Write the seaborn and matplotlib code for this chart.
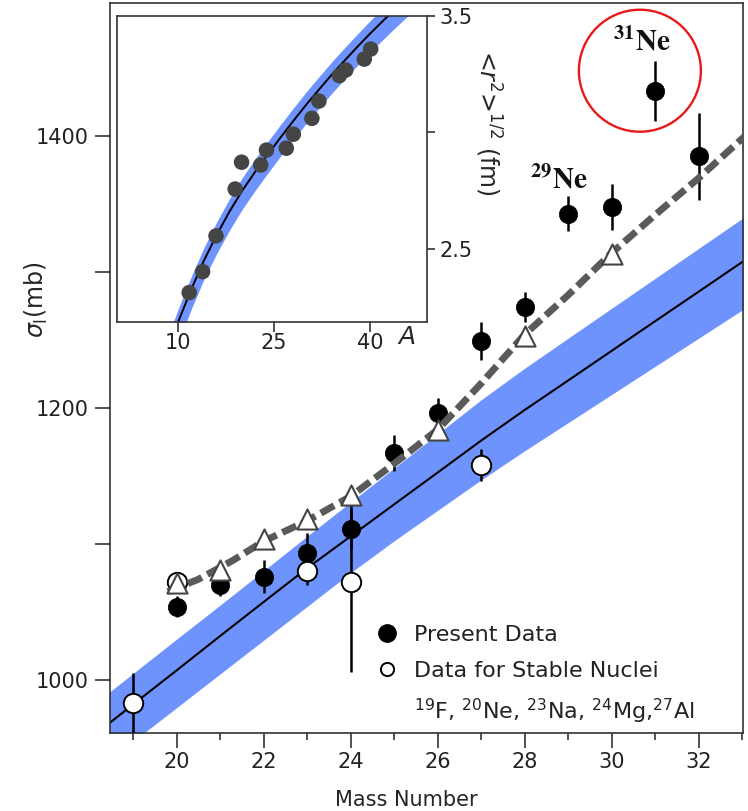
import numpy as np
import pandas as pd
import seaborn as sns
import matplotlib
matplotlib.use("Agg")
import matplotlib.pyplot as plt
from matplotlib.lines import Line2D
from matplotlib.patches import Ellipse

# ---------------- data ----------------
# interaction cross sections, present measurement (Ne isotopes)
present_mass = [20, 21, 22, 23, 24, 25, 26, 27, 28, 29, 30, 31, 32]
present_sigma = [1054, 1070, 1076, 1093, 1111, 1167, 1196, 1249, 1274, 1343, 1348, 1433, 1385]
present_err = [8, 8, 12, 15, 15, 13, 11, 14, 11, 13, 17, 22, 32]

# stable nuclei 19F, 20Ne, 23Na, 24Mg, 27Al
stable_mass = [19, 20, 23, 24, 27]
stable_sigma = [983, 1072, 1080, 1072, 1158]
stable_err = [22, 7, 10, 66, 12]

# calculated cross sections (triangles) and the dashed curve through them
calc_mass = [20, 21, 22, 23, 24, 26, 28, 30]
calc_sigma = [1071, 1081, 1104, 1118, 1136, 1184, 1253, 1313]
curve_mass = [19.8, 20.5, 21.3, 22, 23, 24, 25, 26, 27, 28, 29, 30, 31, 32, 33.1]
curve_sigma = [1065, 1074, 1088, 1102, 1117, 1135, 1159, 1184, 1218, 1254, 1283, 1314, 1342, 1369, 1401]

# systematics for stable nuclei: central line and uncertainty band
band_mass = [18, 19, 20, 21, 22, 23, 24, 25, 26, 27, 28, 29, 30, 31, 32, 33, 34]
band_mid = [956.7, 982, 1007, 1032.3, 1057.3, 1082.2, 1105.6, 1129.1, 1152.5, 1176.0,
            1198.5, 1220.2, 1242.0, 1263.8, 1285.5, 1307.3, 1329]
band_hi = [979.5, 1004.8, 1030, 1055, 1080.3, 1105.7, 1130.8, 1155.8, 1180.9, 1206,
           1229.2, 1251.3, 1273.3, 1295.3, 1317.3, 1339.3, 1361]
band_lo = [930, 954.8, 979.6, 1004.4, 1029.2, 1054, 1078.8, 1102.3, 1124.7, 1147.1,
           1168.5, 1189.2, 1209.9, 1230.6, 1251.3, 1272, 1292.7]

# inset: rms matter radii of stable nuclei vs mass number
radius_mass = [11.7, 13.8, 15.9, 18.9, 19.9, 22.9, 23.8, 26.9, 28.0, 30.9, 32.0, 35.2, 36.2, 39.1, 40.1]
radius_fm = [2.313, 2.403, 2.556, 2.757, 2.872, 2.860, 2.924, 2.932, 2.992, 3.060, 3.134,
             3.243, 3.267, 3.314, 3.357]
rfit_mass = [9, 10, 12, 14, 16, 18, 20, 22, 24, 26, 28, 30, 32, 34, 36, 38, 40, 42, 44, 46]
rfit_mid = [2.116, 2.189, 2.325, 2.450, 2.560, 2.660, 2.750, 2.830, 2.905, 2.978, 3.049,
            3.118, 3.183, 3.247, 3.307, 3.366, 3.423, 3.477, 3.530, 3.581]
rfit_hi = [2.171, 2.244, 2.380, 2.505, 2.615, 2.715, 2.805, 2.885, 2.960, 3.033, 3.104,
           3.173, 3.238, 3.302, 3.362, 3.421, 3.478, 3.532, 3.585, 3.636]
rfit_lo = [2.026, 2.099, 2.240, 2.370, 2.480, 2.580, 2.670, 2.750, 2.825, 2.898, 2.969,
           3.038, 3.103, 3.167, 3.227, 3.286, 3.343, 3.397, 3.450, 3.501]

x_ticks = [20, 22, 24, 26, 28, 30, 32]
y_ticks = [1000, 1200, 1400]
inset_xticks = [10, 25, 40]
inset_yticks = [2.5, 3.0, 3.5]
inset_ylabels = ["2.5", "", "3.5"]

# ---------------- style ----------------
sns.set_theme(style="white")
plt.rcParams["font.family"] = ["DejaVu Sans"]
plt.rcParams["axes.edgecolor"] = "#333333"
plt.rcParams["axes.linewidth"] = 1.2
plt.rcParams["xtick.color"] = "#333333"
plt.rcParams["ytick.color"] = "#333333"
plt.rcParams["xtick.labelcolor"] = "#222222"
plt.rcParams["ytick.labelcolor"] = "#222222"

BLUE = "#6e93fc"
GRAY = "#5a5a5a"

fig = plt.figure(figsize=(7.48, 8.11), dpi=100)
W, H = 748, 811
ax = fig.add_axes([110 / W, 78 / H, 633 / W, 730 / H])

ax.fill_between(band_mass, band_lo, band_hi, color=BLUE, lw=0, zorder=1)
sns.lineplot(x=band_mass, y=band_mid, ax=ax, color="black", lw=1.5, zorder=2)

ax.errorbar(present_mass, present_sigma, yerr=present_err, fmt="none",
            ecolor="black", elinewidth=1.8, capsize=0, zorder=3)
sns.scatterplot(x=present_mass, y=present_sigma, ax=ax, s=175, color="black",
                edgecolor="black", linewidth=0.5, zorder=4)

ax.errorbar(stable_mass, stable_sigma, yerr=stable_err, fmt="none",
            ecolor="black", elinewidth=1.8, capsize=0, zorder=5)
sns.scatterplot(x=stable_mass, y=stable_sigma, ax=ax, s=195, color="white",
                edgecolor="black", linewidth=1.4, zorder=6)

ax.plot(curve_mass, curve_sigma, color=GRAY, lw=5.0,
        linestyle=(0, (2.2, 0.9)), dash_capstyle="butt", zorder=7)
sns.scatterplot(x=calc_mass, y=calc_sigma, ax=ax, s=210, marker="^", color="white",
                edgecolor="#444444", linewidth=1.5, zorder=8)

ax.set_xlim(18.47, 33.02)
ax.set_ylim(961, 1497.8)
ax.set_xticks(x_ticks)
ax.set_xticks(list(range(19, 34, 2)), minor=True)
ax.set_yticks(y_ticks)
ax.set_yticks([1100, 1300], minor=True)
ax.tick_params(axis="both", which="major", direction="out", length=11, width=1.2,
               labelsize=15, bottom=True, left=True, top=False, right=False)
ax.tick_params(axis="x", which="major", pad=3)
ax.tick_params(axis="y", which="major", pad=4)
ax.tick_params(axis="x", which="minor", direction="out", length=5, width=1.2, bottom=True)
ax.tick_params(axis="y", which="minor", direction="out", length=11, width=1.2, left=True)

ax.set_xlabel("Mass Number", fontsize=15)
ax.xaxis.set_label_coords((406 - 110) / 633, (733 - 800) / 730)
ax.xaxis.label.set_va("center")
ax.set_ylabel(r"$\sigma_{\rm I}$(mb)", fontsize=17)
ax.yaxis.set_label_coords((36 - 110) / 633, (733 - 300) / 730)
ax.yaxis.label.set_va("center")

# labels for the neutron-rich isotopes
i31 = present_mass.index(31)
i29 = present_mass.index(29)
ax.text(present_mass[i31] - 0.3, present_sigma[i31] + 36, r"$\mathbf{{}^{31}Ne}$",
        math_fontfamily="stix", fontsize=21, ha="center", va="center", color="#111111")
ax.text(present_mass[i29] - 0.2, present_sigma[i29] + 25, r"$\mathbf{{}^{29}Ne}$",
        math_fontfamily="stix", fontsize=21, ha="center", va="center", color="#111111")

# red ring around 31Ne, kept circular in pixels
fig.canvas.draw()
px_per_x = ax.transData.transform((1, 0))[0] - ax.transData.transform((0, 0))[0]
px_per_y = ax.transData.transform((0, 1))[1] - ax.transData.transform((0, 0))[1]
ring_px = 122
ax.add_patch(Ellipse((present_mass[i31] - 0.35, present_sigma[i31] + 15),
                     ring_px / px_per_x, ring_px / px_per_y, fill=False,
                     edgecolor="#e8191b", lw=1.7, zorder=9, clip_on=False))

# legend
handles = [
    Line2D([], [], ls="none", marker="o", ms=12.5, mfc="black", mec="black"),
    Line2D([], [], ls="none", marker="o", ms=9.5, mfc="white", mec="black", mew=1.4),
    Line2D([], [], ls="none"),
]
labels = ["Present Data", "Data for Stable Nuclei",
          r"$^{19}$F, $^{20}$Ne, $^{23}$Na, $^{24}$Mg,$^{27}$Al"]
leg = ax.legend(handles, labels, loc="upper left",
                bbox_to_anchor=(376 / W, (H - 625) / H), bbox_transform=fig.transFigure,
                frameon=False, fontsize=16, handlelength=1.0, handletextpad=0.7,
                labelspacing=0.72, borderpad=0, borderaxespad=0)
for t in leg.get_texts():
    t.set_color("#222222")

# ---------------- inset ----------------
axi = fig.add_axes([116.7 / W, (H - 322) / H, 310 / W, 306.3 / H])
axi.set_facecolor("white")
axi.fill_between(rfit_mass, rfit_lo, rfit_hi, color=BLUE, lw=0, zorder=1)
sns.lineplot(x=rfit_mass, y=rfit_mid, ax=axi, color="black", lw=1.4, zorder=2)
sns.scatterplot(x=radius_mass, y=radius_fm, ax=axi, s=125, color="#454545",
                edgecolor="none", zorder=3)
axi.set_xlim(0.36, 48.87)
axi.set_ylim(2.187, 3.5)
axi.set_xticks(inset_xticks)
axi.set_yticks(inset_yticks)
axi.set_yticklabels(inset_ylabels)
axi.yaxis.tick_right()
axi.tick_params(axis="x", direction="out", length=7, width=1.2, labelsize=15, pad=1,
                bottom=True, top=False)
axi.tick_params(axis="y", direction="out", length=6, width=1.2, labelsize=15, pad=3,
                right=True, left=False)
axi.set_xlabel("A", fontsize=18, style="italic")
axi.xaxis.set_label_coords((407 - 116.7) / 310, (322 - 337) / 306.3)
axi.xaxis.label.set_va("center")
axi.yaxis.set_label_position("right")
axi.set_ylabel(r"<$r^2$>$^{1/2}$ (fm)", fontsize=17, rotation=270)
axi.yaxis.set_label_coords((488 - 116.7) / 310, (322 - 123) / 306.3)
axi.yaxis.label.set_va("center")
axi.yaxis.label.set_ha("center")

fig.savefig("out.png", dpi=100, facecolor="white")
